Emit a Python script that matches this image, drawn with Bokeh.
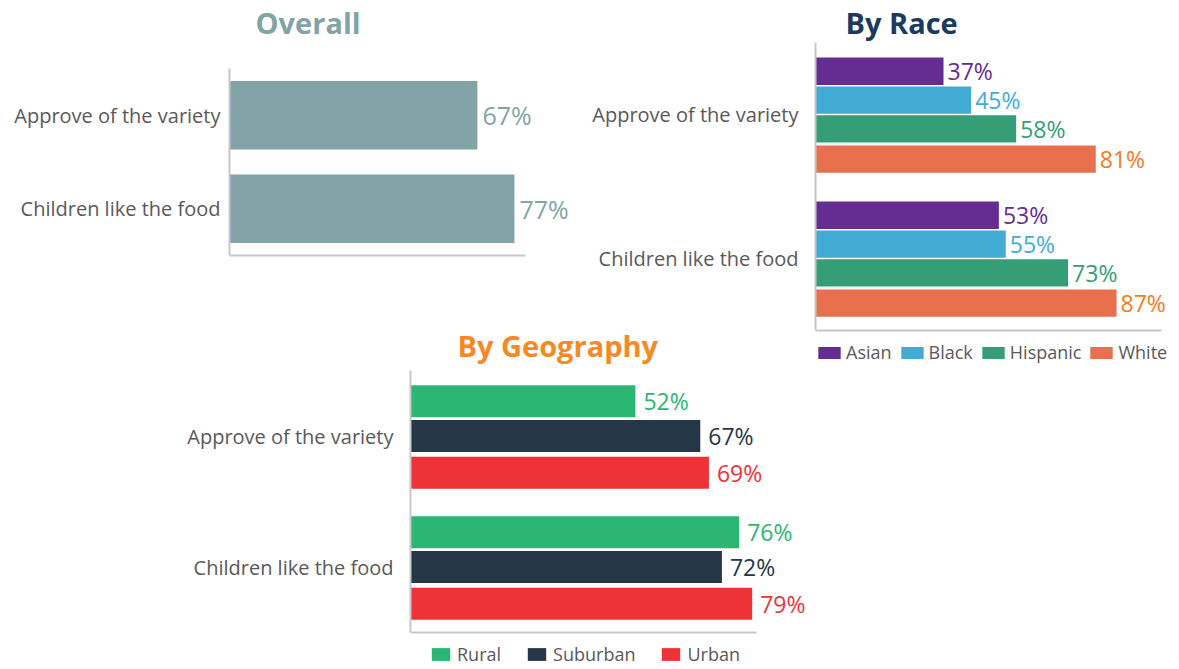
from bokeh.plotting import figure
from bokeh.models import (Range1d, Legend, LegendItem, FixedTicker,
                          ColumnDataSource, LabelSet, Label)
from bokeh.layouts import column, row
from bokeh.embed import file_html
from bokeh.resources import INLINE
from bokeh.core.properties import value

# ---------------- data ----------------
questions = ["Approve of the variety", "Children like the food"]

overall_values = [67, 77]

race_groups = ["Asian", "Black", "Hispanic", "White"]
race_asian = [37, 53]
race_black = [45, 55]
race_hispanic = [58, 73]
race_white = [81, 87]

geo_groups = ["Rural", "Suburban", "Urban"]
geo_rural = [52, 76]
geo_suburban = [67, 72]
geo_urban = [69, 79]

# ---------------- style ----------------
FONT = "Open Sans"
AXIS_GRAY = "#c8c8c8"
LABEL_GRAY = "#595959"

OVERALL_COLOR = "#82a4a7"
RACE_BAR_COLORS = ["#662d91", "#42acd4", "#369e77", "#e8704d"]
RACE_TXT_COLORS = ["#662d91", "#42acd4", "#369e77", "#f47b20"]
GEO_COLORS = ["#2cb673", "#253746", "#ee3338"]

# category centres on a numeric axis (top question first)
NQ = len(questions)
cat_pos = [NQ - i - 0.5 for i in range(NQ)]


def base_fig(title, title_color, t_x, t_base, ppu, axis_end,
             fw, region_top, region_h, fig_h, bl, br, standoff):
    """region_top/region_h: pixel extent of the category band inside the figure."""
    bb = 3
    frame_h = fig_h - bb
    unit = region_h / NQ
    y_top = NQ + region_top / unit
    y_bot = -(frame_h - region_top - region_h) / unit
    p = figure(
        y_range=Range1d(y_bot, y_top),
        x_range=Range1d(0, fw / ppu),
        width=bl + fw + br, height=fig_h,
        min_border_left=bl, min_border_right=br,
        min_border_top=0, min_border_bottom=bb,
        output_backend="svg", toolbar_location=None,
    )
    p.outline_line_color = None
    p.xgrid.grid_line_color = None
    p.ygrid.grid_line_color = None
    p.background_fill_color = None
    p.border_fill_color = None

    p.xaxis.ticker = FixedTicker(ticks=[])
    p.xaxis.fixed_location = 0
    p.xaxis.bounds = (0, axis_end)
    p.xaxis.axis_line_color = AXIS_GRAY
    p.xaxis.axis_line_width = 2
    p.xaxis.major_tick_line_color = None
    p.xaxis.minor_tick_line_color = None
    p.xaxis.major_label_standoff = 0

    p.yaxis.ticker = FixedTicker(ticks=cat_pos)
    p.yaxis.major_label_overrides = {c: q for c, q in zip(cat_pos, questions)}
    p.yaxis.bounds = (0, NQ)
    p.yaxis.axis_line_color = AXIS_GRAY
    p.yaxis.axis_line_width = 2
    p.yaxis.major_tick_line_color = None
    p.yaxis.minor_tick_line_color = None
    p.yaxis.major_label_text_font = FONT
    p.yaxis.major_label_text_font_size = "20px"
    p.yaxis.major_label_text_color = LABEL_GRAY
    p.yaxis.major_label_standoff = standoff

    p.add_layout(Label(x=t_x, y=frame_h - t_base, x_units="screen", y_units="screen",
                       text=title, text_font=FONT, text_font_size="29px",
                       text_font_style="bold", text_color=title_color,
                       text_baseline="alphabetic"))
    return p


def pct(vals):
    return [f"{v}%" for v in vals]


# ---------------- Overall ----------------
p1 = base_fig("Overall", OVERALL_COLOR, 26, 22, 3.7, 80,
              346, 68, 187, 275, 229, 0, 3)
src1 = ColumnDataSource(dict(y=cat_pos, v=overall_values, lbl=pct(overall_values)))
p1.hbar(y="y", right="v", left=0, height=0.73, source=src1,
        fill_color=OVERALL_COLOR, line_color=None)
p1.add_layout(LabelSet(x="v", y="y", text="lbl", source=src1, x_offset=5,
                       text_baseline="middle", text_font=value(FONT),
                       text_font_size="25px", text_color=OVERALL_COLOR))

# ---------------- By Race ----------------
p2 = base_fig("By Race", "#1b3a5f", 30, 22, 3.46, 100,
              360, 42, 288, 368, 240, 0, 11)
race_series = [race_asian, race_black, race_hispanic, race_white]
race_offsets = [0.30, 0.10, -0.10, -0.31]
race_items = []
for name, vals, off, bc, tc in zip(race_groups, race_series, race_offsets,
                                   RACE_BAR_COLORS, RACE_TXT_COLORS):
    src = ColumnDataSource(dict(y=[c + off for c in cat_pos], v=vals, lbl=pct(vals)))
    r = p2.hbar(y="y", right="v", left=0, height=0.19, source=src,
                fill_color=bc, line_color=None)
    p2.add_layout(LabelSet(x="v", y="y", text="lbl", source=src, x_offset=4,
                           text_baseline="middle", text_font=value(FONT),
                           text_font_size="23px", text_color=tc))
    race_items.append(LegendItem(label=name, renderers=[r]))

leg2 = Legend(items=race_items, orientation="horizontal", location=(0, 1),
              border_line_color=None, background_fill_alpha=0,
              glyph_width=28, glyph_height=15, label_standoff=3, spacing=6,
              padding=0, margin=0, label_text_font=FONT,
              label_text_font_size="18px", label_text_color=LABEL_GRAY)
p2.add_layout(leg2, "center")

# ---------------- By Geography ----------------
p3 = base_fig("By Geography", "#f48a25", 47, 25, 4.325, 80,
              395, 50, 262, 349, 230, 5, 11)
geo_series = [geo_rural, geo_suburban, geo_urban]
geo_offsets = [0.265, 0.0, -0.28]
geo_items = []
for name, vals, off, c in zip(geo_groups, geo_series, geo_offsets, GEO_COLORS):
    src = ColumnDataSource(dict(y=[q + off for q in cat_pos], v=vals, lbl=pct(vals)))
    r = p3.hbar(y="y", right="v", left=0, height=0.245, source=src,
                fill_color=c, line_color=None)
    p3.add_layout(LabelSet(x="v", y="y", text="lbl", source=src, x_offset=8,
                           text_baseline="middle", text_font=value(FONT),
                           text_font_size="23px", text_color=c))
    geo_items.append(LegendItem(label=name, renderers=[r]))

leg3 = Legend(items=geo_items, orientation="horizontal", location=(19, 0),
              border_line_color=None, background_fill_alpha=0,
              glyph_width=23, glyph_height=16, label_standoff=5, spacing=24,
              padding=0, margin=0, label_text_font=FONT,
              label_text_font_size="18px", label_text_color=LABEL_GRAY)
p3.add_layout(leg3, "center")
p3.border_fill_alpha = 0
p3.margin = (-48, 0, 0, 180)

layout = column(row(p1, p2), p3)

open("out.html", "w").write(file_html(layout, INLINE))
